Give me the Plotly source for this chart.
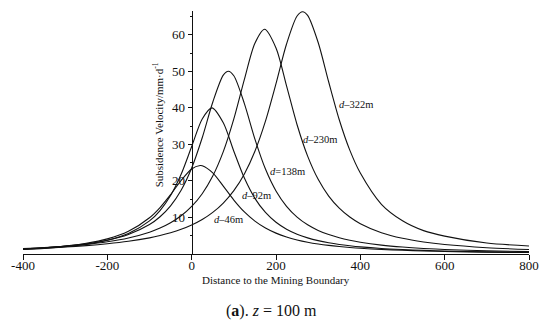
import plotly.graph_objects as go

# ---------------- data ----------------
x_46 = [-400, -350, -300, -250, -200, -150, -100, -75, -50, -25, 0, 20, 25, 50, 75, 100, 125, 150, 175, 200,
        225, 250, 275, 300, 325, 350, 375, 400, 450, 500, 550, 600, 700, 800]
v_46 = [1.30, 1.65, 2.15, 2.92, 4.14, 6.22, 9.92, 12.72, 16.24, 20.12, 23.27, 24.2, 24.14, 22.20, 18.58, 14.76,
        11.51, 9.00, 7.11, 5.71, 4.65, 3.85, 3.23, 2.74, 2.35, 2.04, 1.78, 1.57, 1.24, 1.01, 0.83, 0.70, 0.51, 0.39]

x_92 = [-400, -350, -300, -250, -200, -150, -100, -75, -50, -25, 0, 25, 48, 75, 100, 125, 150, 175, 200,
        225, 250, 275, 300, 325, 350, 375, 400, 450, 500, 550, 600, 700, 800]
v_92 = [1.24, 1.55, 2.01, 2.69, 3.77, 5.61, 9.05, 11.89, 16.0, 21.82, 29.41, 36.95, 40.0, 35.91, 28.12,
        20.77, 15.23, 11.36, 8.68, 6.79, 5.42, 4.42, 3.66, 3.08, 2.62, 2.26, 1.96, 1.52, 1.22, 0.99, 0.82, 0.59, 0.45]

x_138 = [-400, -350, -300, -250, -200, -150, -100, -75, -50, -25, 0, 25, 50, 75, 87, 100, 125, 150, 175, 200,
         225, 250, 275, 300, 325, 350, 375, 400, 450, 500, 550, 600, 700, 800]
v_138 = [1.38, 1.70, 2.15, 2.79, 3.77, 5.35, 8.06, 10.20, 13.19, 17.45, 23.52, 31.81, 41.54, 48.95, 50.0, 48.77,
         41.16, 31.44, 23.24, 17.25, 13.05, 10.10, 7.99, 6.45, 5.31, 4.43, 3.75, 3.21, 2.43, 1.90, 1.52, 1.25, 0.88, 0.65]

x_230 = [-400, -350, -300, -250, -200, -150, -100, -75, -50, -25, 0, 25, 50, 75, 100, 125, 150, 173, 200,
         225, 250, 275, 300, 325, 350, 375, 400, 450, 500, 550, 600, 700, 800]
v_230 = [1.47, 1.75, 2.13, 2.64, 3.36, 4.39, 5.98, 7.10, 8.55, 10.45, 13.01, 16.50, 21.32, 28.00, 36.96,
         47.79, 57.70, 61.5, 56.38, 46.01, 35.38, 26.79, 20.44, 15.86, 12.55, 10.11, 8.29, 5.82, 4.29, 3.29, 2.59, 1.73, 1.23]

x_322 = [-400, -350, -300, -250, -200, -150, -100, -75, -50, -25, 0, 25, 50, 75, 100, 125, 150, 175, 200,
         225, 250, 263, 275, 300, 325, 350, 375, 400, 450, 500, 550, 600, 700, 800]
v_322 = [1.39, 1.62, 1.91, 2.29, 2.79, 3.47, 4.42, 5.05, 5.81, 6.75, 7.94, 9.44, 11.39, 13.94, 17.34, 21.92,
         28.13, 36.37, 46.63, 57.48, 65.13, 66.3, 65.30, 57.88, 47.07, 36.74, 28.42, 22.14, 13.6, 9.1, 6.4, 4.9, 3.0, 2.2]

series_x = [x_46, x_92, x_138, x_230, x_322]
series_v = [v_46, v_92, v_138, v_230, v_322]

label_text = ["<i>d</i>–46m", "<i>d</i>–92m", "<i>d</i>=138m", "<i>d</i>–230m", "<i>d</i>–322m"]
label_x = [49, 114, 181, 260, 345]
label_y = [9.4, 16.0, 22.5, 31.4, 40.8]

x_ticks = [-400, -200, 0, 200, 400, 600, 800]
x_ticktext = ["-400", "-200", "0", "200", "400", "600", "800"]
y_ticks = [10, 20, 30, 40, 50, 60]

SERIF = "Liberation Serif, Times New Roman, serif"

fig = go.Figure()
for xs, vs in zip(series_x, series_v):
    fig.add_trace(go.Scatter(x=xs, y=vs, mode="lines", line=dict(color="#111111", width=1.1, shape="spline", smoothing=0.8),
                             showlegend=False, hoverinfo="skip"))

for t, lx, ly in zip(label_text, label_x, label_y):
    fig.add_annotation(x=lx, y=ly, text=t, showarrow=False, xanchor="left", yanchor="middle",
                       font=dict(family=SERIF, size=10.5, color="#111111"))

fig.add_annotation(xref="paper", yref="paper", x=0.2676, y=0.531, text="Subsidence Velocity/mm·d<sup>-1</sup>",
                   textangle=-90, showarrow=False, xanchor="center", yanchor="middle",
                   font=dict(family=SERIF, size=11, color="#111111"))
fig.add_annotation(xref="paper", yref="paper", x=0.5, y=-0.107, text="Distance to the Mining Boundary",
                   showarrow=False, xanchor="center", yanchor="middle",
                   font=dict(family=SERIF, size=11, color="#111111"))
fig.add_annotation(xref="paper", yref="paper", x=0.492, y=-0.235, text="(<b>a</b>). <i>z</i> = 100 m",
                   showarrow=False, xanchor="center", yanchor="middle",
                   font=dict(family=SERIF, size=16, color="#111111"))

fig.update_layout(
    width=550, height=327,
    margin=dict(l=21, r=17, t=11, b=73),
    paper_bgcolor="white", plot_bgcolor="white",
    xaxis=dict(range=[-400, 800], tickvals=x_ticks, ticktext=x_ticktext, showgrid=False, zeroline=False,
               showline=True, linecolor="#111111", linewidth=1, ticks="outside", ticklen=5, tickcolor="#111111",
               tickfont=dict(family=SERIF, size=13, color="#111111"), anchor="y", ticklabelstandoff=-6),
    yaxis=dict(range=[0, 66.5], tickvals=y_ticks, showgrid=False, zeroline=False, anchor="free", position=1/3,
               showline=True, linecolor="#111111", linewidth=1, ticks="outside", ticklen=4, tickcolor="#111111",
               minor=dict(tickvals=[5, 15, 25, 35, 45, 55, 65], ticks="outside", ticklen=2, tickcolor="#111111"),
               tickfont=dict(family=SERIF, size=13, color="#111111")),
    font=dict(family=SERIF),
)

fig.write_html("out.html", config={"displayModeBar": False},
               post_script="document.body.style.margin='0px';")
